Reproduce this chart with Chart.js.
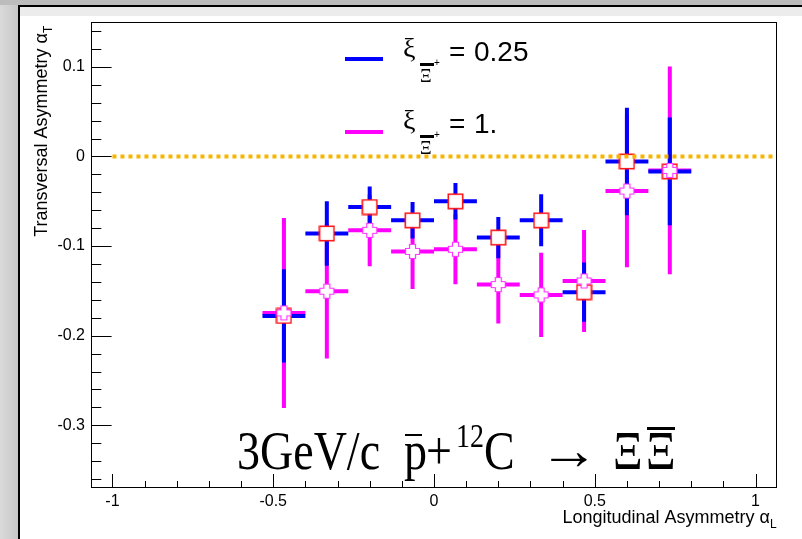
<!DOCTYPE html>
<html>
<head>
<meta charset="utf-8">
<script src="https://cdn.jsdelivr.net/npm/chart.js@4.4.0/dist/chart.umd.min.js"></script>
<style>
    body { margin: 0; width: 802px; height: 539px; overflow: hidden; background: #fff; position: relative; }
    .deco { position: absolute; }
    #chart { position: absolute; left: 0; top: 0; }
</style>
</head>
<body>
<div class="deco" style="left:0;top:0;width:18px;height:539px;background:linear-gradient(to right,#dadada,#c6c6c6);"></div>
<div class="deco" style="left:0;top:0;width:802px;height:5px;background:#bcbcbc;"></div>
<div class="deco" style="left:18px;top:5px;width:2px;height:534px;background:#000;"></div>
<div class="deco" style="left:18px;top:5px;width:784px;height:2px;background:#000;"></div>
<div class="deco" style="left:20px;top:7px;width:782px;height:9px;background:#ececec;"></div>
<canvas id="chart" width="802" height="539"></canvas>
<script>
// DATA
const xCenters = [-0.4667, -0.3333, -0.2, -0.0667, 0.0667, 0.2, 0.3333, 0.4667, 0.6, 0.7333];
const xHalfWidth = [0.0667, 0.0667, 0.0667, 0.0667, 0.0667, 0.0667, 0.0667, 0.0667, 0.0667, 0.0667];

// xi = 0.25 (blue bars, red open squares)
const yBlue   = [-0.178, -0.086, -0.0565, -0.0713, -0.0501, -0.0906, -0.0713, -0.1515, -0.0056, -0.0167];
const errBlue = [0.052, 0.036, 0.023, 0.0204, 0.0204, 0.023, 0.029, 0.033, 0.060, 0.060];

// xi = 1. (magenta bars, open crosses)
const yMagenta   = [-0.1746, -0.1504, -0.0825, -0.106, -0.1036, -0.143, -0.1545, -0.139, -0.0386, -0.0156];
const errMagenta = [0.106, 0.075, 0.04, 0.042, 0.039, 0.0435, 0.047, 0.057, 0.085, 0.116];

const xTickValues = [-1, -0.5, 0, 0.5, 1];
const yTickValues = [-0.3, -0.2, -0.1, 0, 0.1];
const xRange = [-1.0667, 1.0667];
const yRange = [-0.37, 0.15];
const zeroLine = { from: -1, to: 1.0667, y: 0 };

const SANS = '"Liberation Sans", Arial, Helvetica, sans-serif';
const SERIF = '"Liberation Serif", "Times New Roman", serif';

// MARKERS
function makeSquareMarker() {
    const c = document.createElement('canvas');
    c.width = 17; c.height = 17;
    const g = c.getContext('2d');
    g.fillStyle = '#fff';
    g.fillRect(1, 1, 15, 15);
    g.strokeStyle = '#ff1a1a';
    g.lineWidth = 1.6;
    g.strokeRect(1.3, 1.3, 14.4, 14.4);
    return c;
}

function makeCrossMarker() {
    const c = document.createElement('canvas');
    c.width = 17; c.height = 17;
    const g = c.getContext('2d');
    const a = 1.5, b = 5.5, d = 11.5, e = 15.5;
    g.beginPath();
    g.moveTo(b, a); g.lineTo(d, a); g.lineTo(d, b); g.lineTo(e, b); g.lineTo(e, d);
    g.lineTo(d, d); g.lineTo(d, e); g.lineTo(b, e); g.lineTo(b, d); g.lineTo(a, d);
    g.lineTo(a, b); g.lineTo(b, b); g.closePath();
    g.fillStyle = '#fff';
    g.fill();
    g.strokeStyle = '#ff33ff';
    g.lineWidth = 1.2;
    g.stroke();
    return c;
}

// PLUGINS
const errorBars = {
    id: 'errorBars',
    beforeDatasetsDraw(chart) {
        const { ctx, chartArea, scales: { x, y } } = chart;
        ctx.save();
        ctx.beginPath();
        ctx.rect(chartArea.left, chartArea.top, chartArea.right - chartArea.left, chartArea.bottom - chartArea.top);
        ctx.clip();
        ctx.lineWidth = 4;
        ctx.lineCap = 'butt';
        chart.data.datasets.forEach(ds => {
            ctx.strokeStyle = ds.barColor;
            ds.data.forEach((p, i) => {
                const px = x.getPixelForValue(p.x);
                const py = y.getPixelForValue(p.y);
                ctx.beginPath();
                ctx.moveTo(x.getPixelForValue(p.x - ds.xErr[i]), py);
                ctx.lineTo(x.getPixelForValue(p.x + ds.xErr[i]), py);
                ctx.moveTo(px, y.getPixelForValue(p.y + ds.yErr[i]));
                ctx.lineTo(px, y.getPixelForValue(p.y - ds.yErr[i]));
                ctx.stroke();
            });
        });
        ctx.restore();
    }
};

const frameAndTicks = {
    id: 'frameAndTicks',
    afterDatasetsDraw(chart) {
        const { ctx, chartArea: ca, scales: { x, y } } = chart;
        ctx.save();
        // dotted zero line
        ctx.strokeStyle = '#f7b500';
        ctx.lineWidth = 4;
        ctx.setLineDash([4, 4]);
        ctx.beginPath();
        const yz = y.getPixelForValue(zeroLine.y);
        ctx.moveTo(x.getPixelForValue(zeroLine.from), yz);
        ctx.lineTo(x.getPixelForValue(zeroLine.to), yz);
        ctx.stroke();
        ctx.setLineDash([]);

        // frame
        ctx.strokeStyle = '#000';
        ctx.lineWidth = 1;
        ctx.strokeRect(Math.round(ca.left) + 0.5, Math.round(ca.top) + 0.5,
            Math.round(ca.right - ca.left) - 1, Math.round(ca.bottom - ca.top) - 1);

        // ticks (inside, ROOT style)
        ctx.beginPath();
        for (let k = Math.ceil(y.min / 0.02); k * 0.02 <= y.max + 1e-9; k++) {
            const py = Math.round(y.getPixelForValue(k * 0.02)) + 0.5;
            const len = (k % 5 === 0) ? 20.6 : 10.3;
            ctx.moveTo(ca.left, py);
            ctx.lineTo(ca.left + len, py);
        }
        for (let k = Math.ceil(x.min / 0.1); k * 0.1 <= x.max + 1e-9; k++) {
            const px = Math.round(x.getPixelForValue(k * 0.1)) + 0.5;
            const len = (k % 5 === 0) ? 14 : 7;
            ctx.moveTo(px, ca.bottom);
            ctx.lineTo(px, ca.bottom - len);
        }
        ctx.stroke();
        ctx.restore();
    },
    afterDraw(chart) {
        const ctx = chart.ctx;
        ctx.save();
        ctx.fillStyle = '#000';
        ctx.textBaseline = 'alphabetic';

        // legend
        const entries = [
            { color: '#0000ff', lineY: 59, base: 61, text: '0.25' },
            { color: '#ff00ff', lineY: 132, base: 133, text: '1.' }
        ];
        entries.forEach(en => {
            ctx.fillStyle = en.color;
            ctx.fillRect(345, en.lineY - 2, 38, 4);
            ctx.fillStyle = '#000';
            ctx.textAlign = 'left';
            ctx.font = '28px ' + SERIF;
            ctx.fillText('ξ', 403, en.base - 4);
            ctx.font = '18px ' + SERIF;
            ctx.fillText('Ξ', 420, en.base + 21);
            ctx.fillRect(420, en.base + 2, 14, 3);
            ctx.font = '10px ' + SANS;
            ctx.fillText('+', 434, en.base + 5);
            ctx.font = '28px ' + SANS;
            ctx.fillText('=', 449, en.base);
            ctx.fillText(en.text, 474, en.base);
        });

        // reaction label (slightly stretched vertically like the original)
        const base = 469;
        const put = (txt, x, y, size, sx) => {
            ctx.save();
            ctx.translate(x, y);
            ctx.scale(sx || 1, 1.2);
            ctx.font = size + 'px ' + SERIF;
            ctx.fillText(txt, 0, 0);
            ctx.restore();
        };
        put('3GeV/c', 237, base, 46);
        put('p', 404, base, 46);
        ctx.fillRect(405, 434, 17, 2);
        put('+', 426, base, 46);
        put('12', 456, 447, 28);
        put('C', 484, base, 46);
        put('→', 539, base, 46, 1.3);
        put('Ξ', 613, base, 46);
        put('Ξ', 646, base, 46);
        ctx.fillRect(647, 427, 28, 3);

        // x axis title
        ctx.font = '18px ' + SANS;
        ctx.textAlign = 'right';
        ctx.fillText('Longitudinal Asymmetry α', 770, 523);
        ctx.font = '12px ' + SANS;
        ctx.textAlign = 'left';
        ctx.fillText('L', 770, 528);

        // y axis title
        ctx.translate(47, 0);
        ctx.rotate(-Math.PI / 2);
        ctx.font = '18px ' + SANS;
        ctx.textAlign = 'right';
        ctx.fillText('Transversal Asymmetry α', -33, 0);
        ctx.font = '12px ' + SANS;
        ctx.textAlign = 'left';
        ctx.fillText('T', -33, 5);
        ctx.restore();
    }
};

function fmtTick(v) {
    return String(Math.round(v * 10) / 10);
}

new Chart(document.getElementById('chart'), {
    type: 'scatter',
    data: {
        datasets: [
            {
                label: 'xi = 1.',
                data: xCenters.map((x, i) => ({ x: x, y: yMagenta[i] })),
                yErr: errMagenta,
                xErr: xHalfWidth,
                barColor: '#ff00ff',
                pointStyle: makeCrossMarker()
            },
            {
                label: 'xi = 0.25',
                data: xCenters.map((x, i) => ({ x: x, y: yBlue[i] })),
                yErr: errBlue,
                xErr: xHalfWidth,
                barColor: '#0000ff',
                pointStyle: makeSquareMarker()
            }
        ]
    },
    options: {
        responsive: false,
        animation: false,
        layout: { padding: { top: 22, right: 25, left: 0, bottom: 0 } },
        plugins: { legend: { display: false }, tooltip: { enabled: false } },
        scales: {
            x: {
                type: 'linear',
                min: xRange[0], max: xRange[1],
                grid: { display: false, drawTicks: false },
                border: { display: false },
                afterBuildTicks: s => { s.ticks = xTickValues.map(v => ({ value: v })); },
                afterFit: s => { s.height = 51; },
                ticks: {
                    color: '#000', padding: 4, maxRotation: 0, autoSkip: false,
                    font: { family: SANS, size: 16 },
                    callback: v => fmtTick(v)
                }
            },
            y: {
                type: 'linear',
                min: yRange[0], max: yRange[1],
                grid: { display: false, drawTicks: false },
                border: { display: false },
                afterBuildTicks: s => { s.ticks = yTickValues.map(v => ({ value: v })); },
                afterFit: s => { s.width = 91; },
                ticks: {
                    color: '#000', padding: 6, autoSkip: false,
                    font: { family: SANS, size: 16 },
                    callback: v => fmtTick(v)
                }
            }
        }
    },
    plugins: [errorBars, frameAndTicks]
});
</script>
</body>
</html>
